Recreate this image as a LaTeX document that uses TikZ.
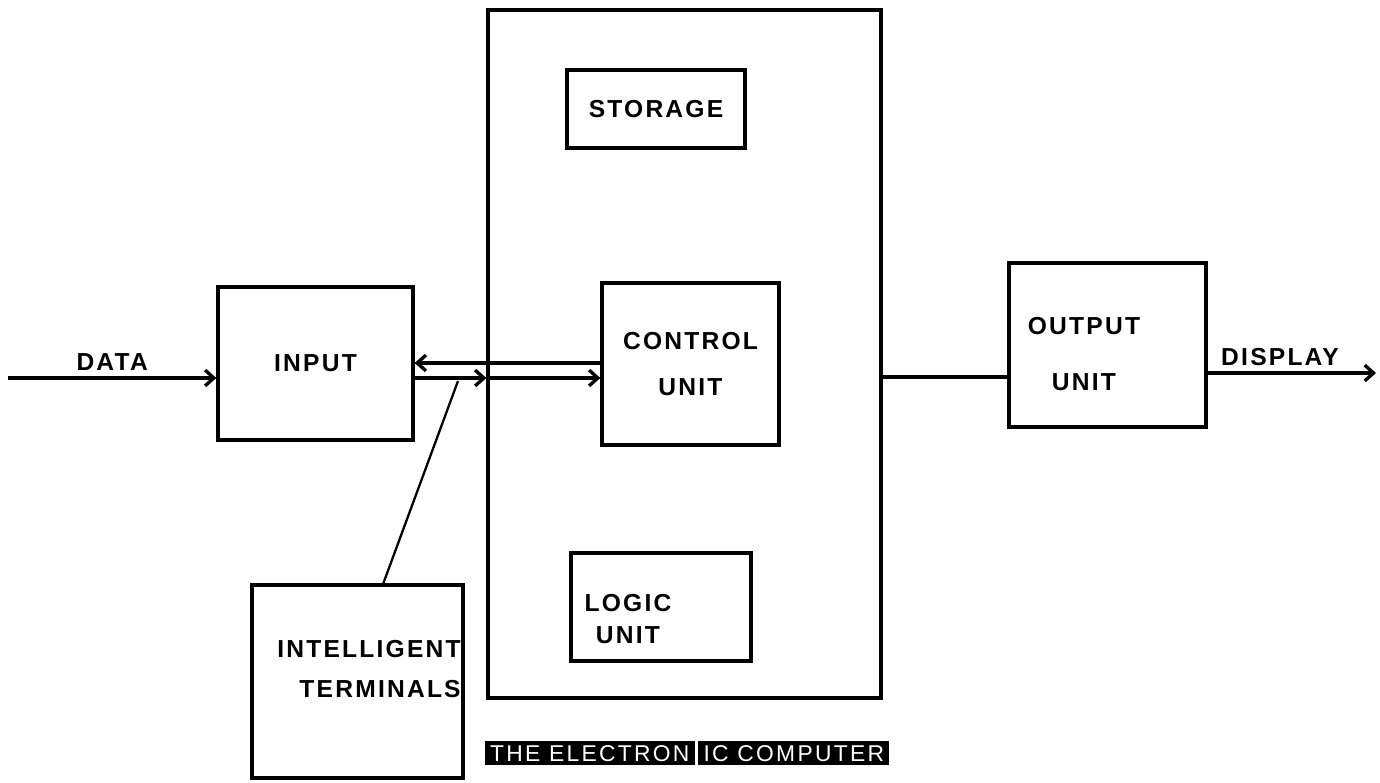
\documentclass[tikz,border=0pt]{standalone}
\usepackage{fontspec}
\newfontfamily\lettering[LetterSpace=9]{Liberation Sans}
\newfontfamily\capfont[LetterSpace=10]{Liberation Sans}
\usetikzlibrary{arrows.meta,positioning}

\begin{document}
\begin{tikzpicture}[x=0.02cm, y=-0.02cm,
  >={Straight Barb[length=5pt,width=9pt]},
  every node/.style={font=\lettering\bfseries\fontsize{14}{17}\selectfont},
  box/.style={draw, line width=1.9pt, inner sep=0pt, align=center},
  wire/.style={line width=1.9pt},
  caption/.style={fill=black, text=white, inner xsep=3pt, inner ysep=2pt, text height=9.5pt, text depth=0pt,
    font=\capfont\fontsize{13}{15}\selectfont}]
  \useasboundingbox (0,0) rectangle (1380,783);

  % the computer and its parts
  \node (cpu) [box, minimum width=7.86cm, minimum height=13.76cm] at (684.5,354) {};
  \node (stor) [box, minimum width=3.56cm, minimum height=1.56cm] at (656,109) {STORAGE};
  \node (ctrl) [box, minimum width=3.54cm, minimum height=3.24cm] at (690.5,364) {CONTROL\\[9pt]UNIT};
  \node (logic) [box, minimum width=3.6cm, minimum height=2.16cm] at (661,607) {};
  \node (logictxt) [align=center, inner sep=0pt] at (628,619) {LOGIC\\[1pt]UNIT};

  % input, output, terminals
  \node (inp) [box, minimum width=3.9cm, minimum height=3.06cm] at (315.5,363.5) {INPUT};
  \node (outp) [box, minimum width=3.94cm, minimum height=3.28cm] at (1107.5,345) {};
  \node (outptxt) [align=center, inner sep=0pt] at (1084,354) {OUTPUT\\[15pt]UNIT};
  \node (term) [box, minimum width=4.22cm, minimum height=3.86cm] at (357.5,681.5) {};
  \node (termtxt) [anchor=east, align=right, inner sep=0pt] at (461,669) {INTELLIGENT\\[6pt]TERMINALS};

  % bus heights
  \coordinate (datain) at (8,378);
  \coordinate (upbus) at (0,363);
  \coordinate (lowbus) at (0,378);
  \coordinate (outbus) at (0,377);
  \coordinate (dispend) at (1376,373);
  \coordinate (tap) at (458,381);

  % connectors
  \draw[wire,->] (datain) -- node[above] (datalbl) {DATA} (datain -| inp.west);
  \draw[wire,->] (ctrl.west |- upbus) -- (inp.east |- upbus);
  \draw[wire,->] (inp.east |- lowbus) -- (cpu.west |- lowbus);
  \draw[wire,->] (cpu.west |- lowbus) -- (ctrl.west |- lowbus);
  \draw[wire] (cpu.east |- outbus) -- (outp.west |- outbus);
  \draw[wire,->] (outp.east |- dispend) -- node[above, pos=0.43] (displbl) {DISPLAY} (dispend);
  \draw[line width=1.3pt] (tap) -- ([xshift=2.66cm]term.north west);

  % caption
  \node (cap1) [caption, anchor=east] at (695,753) {THE ELECTRON};
  \node (cap2) [caption, anchor=west] at (698,753) {IC COMPUTER};
\end{tikzpicture}
\end{document}
